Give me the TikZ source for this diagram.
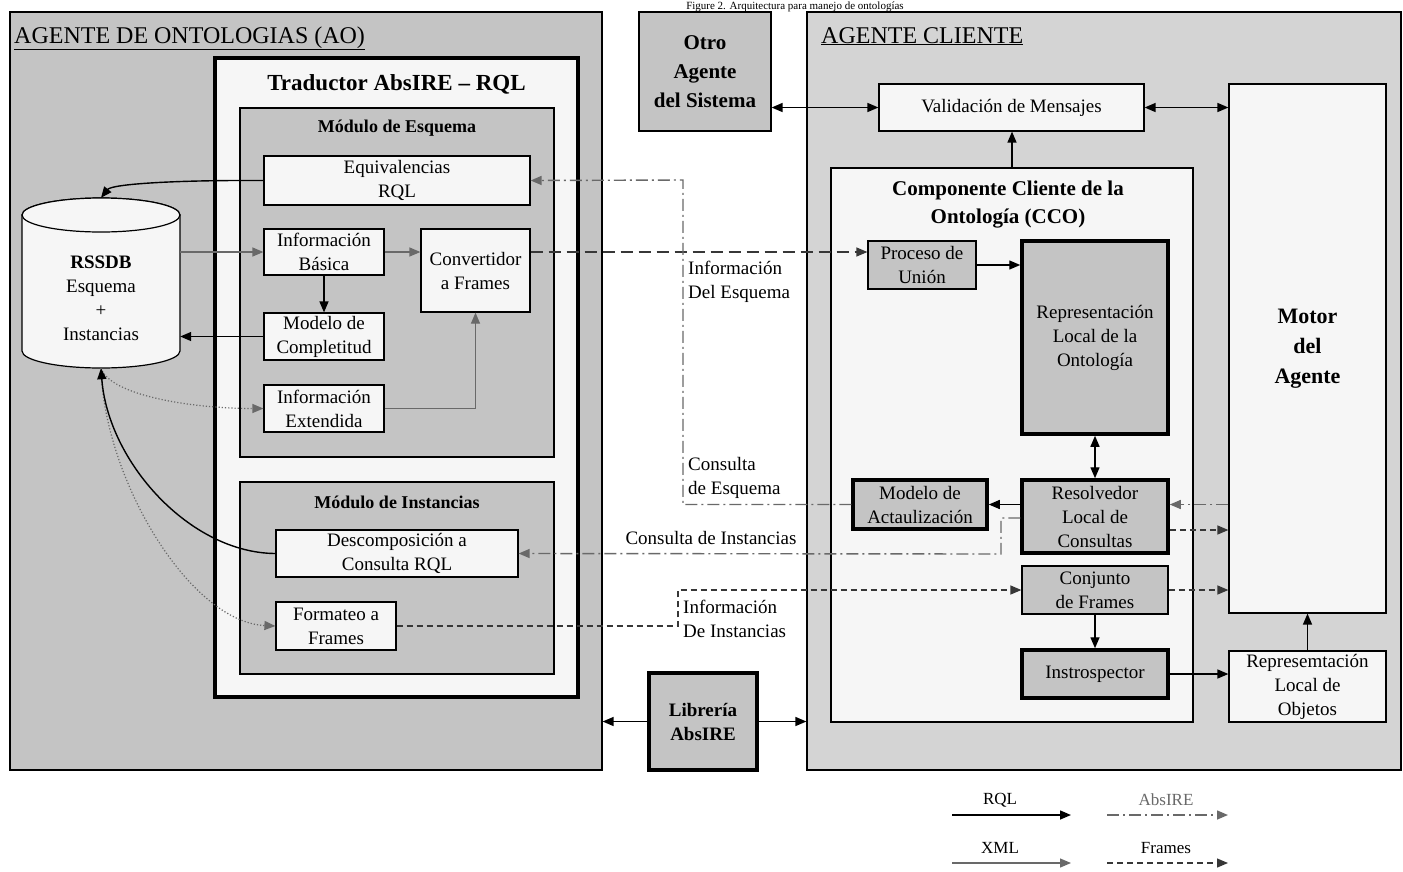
\documentclass[tikz,border=0pt]{standalone}
\usepackage{fontspec}
\setmainfont{Liberation Serif}
\usetikzlibrary{arrows.meta}

\definecolor{aoGray}{RGB}{196,196,196}
\definecolor{ccGray}{RGB}{212,212,212}
\definecolor{boxWhite}{RGB}{246,246,246}
\definecolor{boxGray}{RGB}{196,196,196}
\definecolor{lineGray}{RGB}{105,105,105}
\definecolor{frameGray}{RGB}{55,55,55}

\newcommand\boxfont{\fontsize{19}{24}\selectfont}
\newcommand\panelfont{\fontsize{24}{28}\selectfont}
\newcommand\tradfont{\fontsize{23}{28}\selectfont\bfseries}
\newcommand\modfont{\fontsize{18}{22}\selectfont\bfseries}
\newcommand\otrofont{\fontsize{21}{29}\selectfont\bfseries}
\newcommand\motorfont{\fontsize{22}{30}\selectfont\bfseries}
\newcommand\ccofont{\fontsize{21}{28}\selectfont\bfseries}
\newcommand\legfont{\fontsize{17}{20}\selectfont}

\begin{document}
\begin{tikzpicture}[x=1pt,y=-1pt,>={Triangle[length=11pt,width=9pt]},
every node/.style={inner sep=0pt},
panel/.style={draw,line width=1.2pt},
wbox/.style={draw,line width=1.2pt,fill=boxWhite,align=center,font=\boxfont},
gbox/.style={wbox,fill=boxGray},
gboxb/.style={gbox,line width=3.5pt},
rql/.style={->,line width=1.4pt,color=black},
xml/.style={->,line width=1.2pt,color=lineGray},
absire/.style={->,line width=1.4pt,color=lineGray,dash pattern=on 12pt off 4pt on 2pt off 4pt},
frames/.style={->,line width=1.2pt,color=frameGray,dash pattern=on 6pt off 4pt},
frameslong/.style={frames,dash pattern=on 12pt off 6pt},
dotline/.style={->,line width=1.2pt,color=lineGray,dotted},
lbl/.style={font=\boxfont,align=left}]
\useasboundingbox[fill=white] (0,0) rectangle (1403,871);

% caption
\node[anchor=base,font=\fontsize{11}{12}\selectfont] (figTitle) at (795,9) {Figure 2. Arquitectura para manejo de ontologías};

% agente de ontologias
\node[panel,fill=aoGray,minimum width=592pt,minimum height=758pt] (ao) at (306,391) {};
\node[anchor=base west,font=\panelfont] (aoTitle) at (14,43) {\underline{AGENTE DE ONTOLOGIAS (AO)}};
\node[draw,line width=4pt,fill=boxWhite,minimum width=363pt,minimum height=639pt] (trad) at (396.5,377.5) {};
\node[font=\tradfont] (tradTitle) at (396.5,84) {Traductor AbsIRE \textendash{} RQL};

\node[panel,fill=boxGray,minimum width=314pt,minimum height=349pt] (modEsq) at (397,282.5) {};
\node[font=\modfont] (modEsqTitle) at (397,128) {Módulo de Esquema};
\node[wbox,minimum width=266pt,minimum height=49pt] (equiv) at (397,180.5) {Equivalencias\\RQL};
\node[wbox,minimum width=120pt,minimum height=46pt] (infBas) at (324,252) {Información\\Básica};
\node[wbox,minimum width=109pt,minimum height=83pt] (conv) at (475.5,270.5) {Convertidor\\a Frames};
\node[wbox,minimum width=120pt,minimum height=47pt] (modComp) at (324,336.5) {Modelo de\\Completitud};
\node[wbox,minimum width=120pt,minimum height=47pt] (infExt) at (324,408.5) {Información\\Extendida};

\node[panel,fill=boxGray,minimum width=314pt,minimum height=192pt] (modInst) at (397,578) {};
\node[font=\modfont] (modInstTitle) at (397,502) {Módulo de Instancias};
\node[wbox,minimum width=242pt,minimum height=47pt] (descomp) at (397,553.5) {Descomposición a\\Consulta RQL};
\node[wbox,minimum width=120pt,minimum height=48pt] (formateo) at (336,626) {Formateo a\\Frames};

% base de datos
\draw[line width=1.2pt,fill=boxWhite] (22,215) -- (22,351)
  arc[start angle=180,end angle=360,x radius=79pt,y radius=17pt] -- (180,215)
  arc[start angle=0,end angle=180,x radius=79pt,y radius=17pt] -- cycle;
\draw[line width=1.2pt,fill=boxWhite] (101,215) ellipse[x radius=79pt,y radius=17pt];
\node[minimum width=158pt,minimum height=170pt] (rssdb) at (101,283) {};
\node[font=\boxfont,align=center] (rssdbTxt) at (101,298) {\textbf{RSSDB}\\Esquema\\+\\Instancias};

% agente cliente
\node[panel,fill=ccGray,minimum width=594pt,minimum height=758pt] (cc) at (1104,391) {};
\node[anchor=base west,font=\panelfont] (ccTitle) at (821,43) {\underline{AGENTE CLIENTE}};
\node[gbox,font=\otrofont,minimum width=132pt,minimum height=119pt] (otro) at (705,71.5) {Otro\\Agente\\del Sistema};
\node[wbox,minimum width=265pt,minimum height=47pt] (valid) at (1011.5,107.5) {Validación de Mensajes};
\node[wbox,font=\motorfont,minimum width=157pt,minimum height=529pt] (motor) at (1307.5,348.5) {Motor\\del\\Agente};
\node[wbox,minimum width=362pt,minimum height=554pt] (cco) at (1012,445) {};
\node[font=\ccofont,align=center] (ccoTitle) at (1008,205) {Componente Cliente de la\\Ontología (CCO)};
\node[gbox,minimum width=108pt,minimum height=48pt] (procUnion) at (922,265) {Proceso de\\Unión};
\node[gboxb,minimum width=146pt,minimum height=193pt] (repOnt) at (1095,337.5) {Representación\\Local de la\\Ontología};
\node[gboxb,minimum width=146pt,minimum height=73pt] (resolv) at (1095,516.5) {Resolvedor\\Local de\\Consultas};
\node[gboxb,minimum width=134pt,minimum height=49pt] (modAct) at (920,504.5) {Modelo de\\Actaulización};
\node[gbox,minimum width=146pt,minimum height=48pt] (conjFr) at (1095,590) {Conjunto\\de Frames};
\node[gboxb,minimum width=146pt,minimum height=48pt] (instros) at (1095,674) {Instrospector};
\node[wbox,minimum width=157pt,minimum height=71pt] (repObj) at (1307.5,686.5) {Represemtación\\Local de\\Objetos};
\node[gboxb,font=\fontsize{19}{24}\selectfont\bfseries,minimum width=108pt,minimum height=97pt] (libreria) at (703,721.5) {Librería\\AbsIRE};

% conexiones del AO
\draw[rql] (equiv.west) .. controls (175,180) and (112,184) .. (rssdb.north);
\draw[xml] (rssdb.east |- infBas.west) -- (infBas.west);
\draw[xml] (infBas.east) -- (infBas.east -| conv.west);
\draw[rql] (infBas.south) -- (modComp.north);
\draw[rql] (modComp.west) -- (rssdb.east |- modComp.west);
\draw[xml] (infExt.east) -| (conv.south);
\draw[dotline] (rssdb.south) .. controls (110,395) and (190,408.5) .. (infExt.west);
\draw[dotline] (rssdb.south) .. controls (104,480) and (190,622) .. (formateo.west);
\draw[rql] (descomp.west) .. controls (190,553) and (108,462) .. (rssdb.south);

% mensajes entre agentes
\coordinate (bendA) at (683,180);
\coordinate (bendB) at (1001,554);
\coordinate (bendC) at (678,590);
\draw[frameslong] (conv.east |- infBas.east) -- (infBas.east -| procUnion.west);
\node[lbl,anchor=west] (lblInfEsq) at (688,282) {Información\\Del Esquema};
\draw[absire] (modAct.west) -| (bendA) -- (equiv.east);
\node[lbl,anchor=west] (lblConsEsq) at (688,478) {Consulta\\de Esquema};
\draw[absire] ([yshift=-1.5pt]resolv.west) -| (bendB) -- (descomp.east);
\node[lbl] (lblConsInst) at (711,538) {Consulta de Instancias};
\draw[frames] (formateo.east) -| (bendC) -- (conjFr.west);
\node[lbl,anchor=west] (lblInfInst) at (683,619) {Información\\De Instancias};

% conexiones del cliente
\draw[<->,line width=1.4pt] (otro.east |- valid.west) -- (valid.west);
\draw[<->,line width=1.4pt] (valid.east) -- (valid.east -| motor.west);
\draw[rql] (cco.north) -- (cco.north |- valid.south);
\draw[rql] (procUnion.east) -- (procUnion.east -| repOnt.west);
\draw[<->,line width=1.4pt] (repOnt.south) -- (resolv.north);
\draw[rql] (resolv.west |- modAct.east) -- (modAct.east);
\draw[absire] (motor.west |- modAct.east) -- (resolv.east |- modAct.east);
\draw[frames] ([yshift=-13.5pt]resolv.east) -- ([yshift=-13.5pt]resolv.east -| motor.west);
\draw[frames] (conjFr.east) -- (conjFr.east -| motor.west);
\draw[rql] (conjFr.south) -- (instros.north);
\draw[rql] (instros.east) -- (instros.east -| repObj.west);
\draw[rql] (repObj.north) -- (repObj.north |- motor.south);
\draw[rql] (libreria.west) -- (libreria.west -| ao.east);
\draw[rql] (libreria.east) -- (libreria.east -| cc.west);

% leyenda
\node[font=\legfont] (lgRql) at (1000,800) {RQL};
\node[font=\legfont,text=lineGray] (lgAbs) at (1166,800) {AbsIRE};
\node[font=\legfont] (lgXml) at (1000,848) {XML};
\node[font=\legfont] (lgFr) at (1166,848) {Frames};
\coordinate (lgRqlA) at (952,815);  \coordinate (lgRqlB) at (1071,815);
\coordinate (lgAbsA) at (1107,815); \coordinate (lgAbsB) at (1228,815);
\coordinate (lgXmlA) at (952,863);  \coordinate (lgXmlB) at (1071,863);
\coordinate (lgFrA) at (1107,863);  \coordinate (lgFrB) at (1228,863);
\draw[rql] (lgRqlA) -- (lgRqlB);
\draw[absire] (lgAbsA) -- (lgAbsB);
\draw[xml] (lgXmlA) -- (lgXmlB);
\draw[frames] (lgFrA) -- (lgFrB);
\end{tikzpicture}
\end{document}
